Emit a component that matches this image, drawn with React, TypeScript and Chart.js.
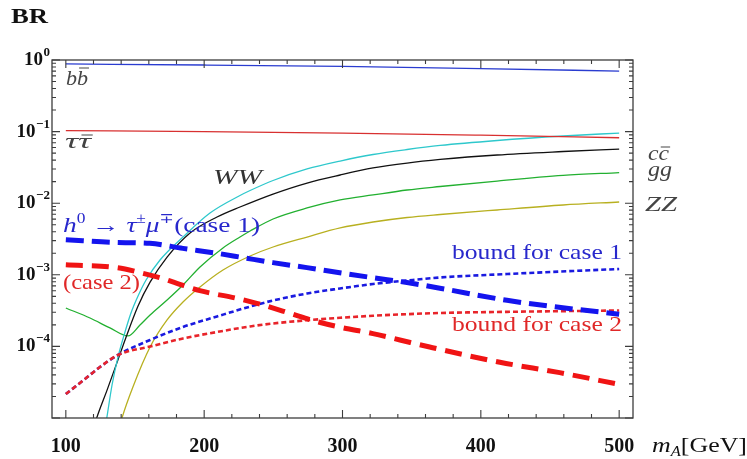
import React, { useEffect, useRef } from "react";
import { Chart, registerables } from "chart.js";

Chart.register(...registerables);

// ---------------- data ----------------
const xMin = 90;
const xMax = 510;
const yMin = 1e-5;
const yMax = 1;

const xTickMajor = [100, 200, 300, 400, 500];
const xTickLabels = ["100", "200", "300", "400", "500"];
const yDecades = [1, 0.1, 0.01, 0.001, 0.0001];
const yTickExponents = ["0", "\u22121", "\u22122", "\u22123", "\u22124"];

// b bbar
const bbX = [100, 200, 300, 400, 500];
const bbY = [0.881, 0.851, 0.813, 0.759, 0.7];

// tau tau
const tautauX = [100, 200, 300, 400, 500];
const tautauY = [0.103, 0.1, 0.0955, 0.089, 0.082];

// WW (cyan)
const wwX = [128.9, 129.6, 133.4, 137.7, 142.1, 147.1, 152.2, 158.0, 168.1, 184.7, 204.2, 225.9, 233.2, 249.8, 274.4, 298.3, 322.1, 346.7, 370.6, 411.8, 459.5, 500];
const wwY = [8.3e-6, 1.0e-5, 2.89e-5, 7.1e-5, 1.44e-4, 2.93e-4, 5.06e-4, 8.45e-4, 1.61e-3, 3.37e-3, 7.3e-3, 0.01282, 0.01503, 0.02075, 0.0301, 0.0388, 0.0479, 0.0562, 0.064, 0.0751, 0.0868, 0.0955];

// c cbar (black)
const ccX = [121.6, 122.3, 129.8, 137.7, 142.8, 152.2, 160.9, 173.2, 189.8, 209.3, 225.9, 249.8, 274.4, 298.3, 322.1, 346.7, 370.6, 411.8, 459.5, 500];
const ccY = [9e-6, 1.0e-5, 2.45e-5, 6.5e-5, 1.23e-4, 3.67e-4, 7.9e-4, 1.77e-3, 3.84e-3, 6.41e-3, 8.85e-3, 0.01343, 0.01914, 0.02477, 0.03104, 0.0364, 0.0408, 0.0471, 0.0527, 0.0571];

// gg (green)
const ggX = [100, 117.5, 131.9, 144.9, 153.6, 160.9, 173.2, 184.7, 197.0, 213.6, 225.9, 233.2, 249.8, 274.4, 298.3, 322.1, 346.7, 370.6, 411.8, 459.5, 500];
const ggY = [3.44e-4, 2.49e-4, 1.81e-4, 1.4e-4, 1.99e-4, 2.75e-4, 4.45e-4, 7.21e-4, 1.285e-3, 2.37e-3, 3.37e-3, 4.09e-3, 6.02e-3, 8.57e-3, 0.01109, 0.01303, 0.01529, 0.0171, 0.0204, 0.0244, 0.0268];

// ZZ (yellow)
const zzX = [139.5, 140.6, 148.5, 160.9, 173.2, 184.7, 197.0, 213.6, 233.2, 249.8, 274.4, 298.3, 322.1, 346.7, 370.6, 411.8, 459.5, 500];
const zzY = [8.3e-6, 1.0e-5, 2.71e-5, 9.8e-5, 2.34e-4, 4.17e-4, 6.76e-4, 1.167e-3, 1.832e-3, 2.445e-3, 3.37e-3, 4.51e-3, 5.46e-3, 6.31e-3, 6.95e-3, 8.04e-3, 9.44e-3, 0.0104];

// h0 -> tau mu (case 1), thick blue dashed
const case1X = [100, 136.9, 160.7, 184.6, 209.2, 228, 249.7, 274.3, 298, 322, 346.6, 370.4, 418.9, 455, 500];
const case1Y = [3.09e-3, 2.82e-3, 2.75e-3, 2.34e-3, 2.0e-3, 1.74e-3, 1.48e-3, 1.26e-3, 1.07e-3, 9.1e-4, 7.8e-4, 6.5e-4, 4.4e-4, 3.55e-4, 2.82e-4];

// case 2, thick red dashed
const case2X = [100, 136.9, 155.7, 168, 180.3, 196.9, 223.6, 238, 262, 278.6, 298, 322, 341.5, 363, 413.8, 457, 500];
const case2Y = [1.38e-3, 1.26e-3, 1.05e-3, 9.1e-4, 7.6e-4, 6.0e-4, 4.7e-4, 4.0e-4, 2.9e-4, 2.3e-4, 1.86e-4, 1.51e-4, 1.23e-4, 9.8e-5, 6.0e-5, 4.3e-5, 2.95e-5];

// bound for case 1, blue dotted
const bound1X = [100, 113, 124.7, 137.7, 160.9, 184.7, 209.3, 233.2, 249.8, 274.4, 298.3, 322.1, 346.7, 370.6, 419, 466.7, 500];
const bound1Y = [2.16e-5, 3.4e-5, 5.16e-5, 7.59e-5, 1.23e-4, 1.87e-4, 2.62e-4, 3.6e-4, 4.38e-4, 5.48e-4, 6.44e-4, 7.44e-4, 8.33e-4, 9.17e-4, 1.026e-3, 1.13e-3, 1.205e-3];

// bound for case 2, red dotted
const bound2X = [100, 113, 124.7, 137.7, 160.9, 184.7, 209.3, 233.2, 249.8, 274.4, 298.3, 322.1, 346.7, 370.6, 419, 500];
const bound2Y = [2.16e-5, 3.4e-5, 5.16e-5, 7.59e-5, 9.97e-5, 1.29e-4, 1.59e-4, 1.9e-4, 2.09e-4, 2.32e-4, 2.51e-4, 2.68e-4, 2.82e-4, 2.93e-4, 3.04e-4, 3.17e-4];

// ---------------- helpers ----------------
const SERIF = '"Liberation Serif", "DejaVu Serif", serif';
const pts = (xs: number[], ys: number[]) => xs.map((x, i) => ({ x, y: ys[i] }));

type Seg = { t: string; font: string; dy?: number; bar?: number };

function rich(ctx: CanvasRenderingContext2D, segs: Seg[], x: number, base: number, color: string, target?: number) {
  let total = 0;
  const widths: number[] = [];
  for (const s of segs) {
    ctx.font = s.font;
    const w = ctx.measureText(s.t).width;
    widths.push(w);
    total += w;
  }
  const sx = target ? target / total : 1;
  ctx.save();
  ctx.translate(x, base);
  ctx.scale(sx, 1);
  ctx.fillStyle = color;
  ctx.strokeStyle = color;
  ctx.textAlign = "left";
  ctx.textBaseline = "alphabetic";
  let cx = 0;
  segs.forEach((s, i) => {
    ctx.font = s.font;
    ctx.fillText(s.t, cx, s.dy || 0);
    if (s.bar !== undefined) {
      ctx.lineWidth = 1.0;
      ctx.beginPath();
      ctx.moveTo(cx + 2, s.bar);
      ctx.lineTo(cx + widths[i] + 1, s.bar);
      ctx.stroke();
    }
    cx += widths[i];
  });
  ctx.restore();
}

const it = (px: number) => `italic ${px}px ${SERIF}`;
const rm = (px: number) => `${px}px ${SERIF}`;
const bd = (px: number) => `bold ${px}px ${SERIF}`;

const decor = {
  id: "decor",
  afterDatasetsDraw(chart: any) {
    const { ctx, chartArea: a, scales } = chart;
    const xs = scales.x;
    const ys = scales.y;
    ctx.save();
    ctx.strokeStyle = "#3c3c3c";
    ctx.lineWidth = 1.3;
    ctx.strokeRect(a.left, a.top, a.right - a.left, a.bottom - a.top);
    ctx.lineWidth = 1.1;
    ctx.beginPath();
    // x ticks (bottom & top, inward)
    for (let v = 100; v <= 500; v += 20) {
      const px = xs.getPixelForValue(v);
      const len = v % 100 === 0 ? 8 : 4;
      ctx.moveTo(px, a.bottom);
      ctx.lineTo(px, a.bottom - len);
      ctx.moveTo(px, a.top);
      ctx.lineTo(px, a.top + len);
    }
    // y ticks (left & right, inward)
    for (let e = -5; e <= 0; e++) {
      for (let k = 1; k <= 9; k++) {
        const v = k * Math.pow(10, e);
        if (v > yMax * 1.0001) continue;
        const py = ys.getPixelForValue(v);
        const len = k === 1 ? 8 : 4;
        ctx.moveTo(a.left, py);
        ctx.lineTo(a.left + len, py);
        ctx.moveTo(a.right, py);
        ctx.lineTo(a.right - len, py);
      }
    }
    ctx.stroke();

    // tick labels
    ctx.fillStyle = "#111";
    ctx.textBaseline = "alphabetic";
    xTickMajor.forEach((v, i) => {
      ctx.font = bd(20);
      ctx.textAlign = "center";
      ctx.fillText(xTickLabels[i], xs.getPixelForValue(v), 452);
    });
    yDecades.forEach((v, i) => {
      const py = ys.getPixelForValue(v);
      ctx.textAlign = "left";
      ctx.font = bd(13);
      const ew = ctx.measureText(yTickExponents[i]).width;
      ctx.fillText(yTickExponents[i], 50 - ew, py - 4);
      ctx.font = bd(19);
      const w10 = ctx.measureText("10").width;
      ctx.fillText("10", 50 - ew - w10 - 0.5, py + 5);
    });
    ctx.restore();

    // axis titles
    rich(ctx, [{ t: "BR", font: bd(21) }], 11, 23, "#111", 37);
    rich(ctx, [
      { t: "m", font: it(22) },
      { t: "A", font: it(14), dy: 4 },
      { t: "[GeV]", font: rm(22) },
    ], 652, 452, "#111", 95);

    // curve labels
    const grey = "#444";
    rich(ctx, [{ t: "b", font: it(21) }, { t: "b", font: it(21), bar: -17 }], 66, 85, grey, 22);
    rich(ctx, [{ t: "\u03c4", font: it(21) }, { t: "\u03c4", font: it(21), bar: -13 }], 65, 148, grey, 26);
    rich(ctx, [{ t: "WW", font: it(21) }], 213, 184, "#333", 49);
    rich(ctx, [{ t: "c", font: it(21) }, { t: "c", font: it(21), bar: -13 }], 648, 160, grey, 21);
    rich(ctx, [{ t: "gg", font: it(21) }], 648, 176, grey, 24);
    rich(ctx, [{ t: "ZZ", font: it(21) }], 645, 211, grey, 32);

    const blue = "#2828cc";
    const red = "#e02828";
    rich(ctx, [
      { t: "h", font: it(22) },
      { t: "0", font: rm(14), dy: -9 },
      { t: " \u2192 ", font: rm(22) },
      { t: "\u03c4", font: it(22) },
      { t: "\u00b1", font: rm(14), dy: -9 },
      { t: "\u03bc", font: it(22) },
      { t: "\u2213", font: rm(14), dy: -9 },
      { t: "(case 1)", font: rm(22) },
    ], 63, 232, blue, 197);
    rich(ctx, [{ t: "(case 2)", font: rm(22) }], 63, 289, red, 77);
    rich(ctx, [{ t: "bound for case 1", font: rm(22) }], 452, 259, blue, 170);
    rich(ctx, [{ t: "bound for case 2", font: rm(22) }], 452, 331, red, 170);
  },
};

function ds(label: string, xs: number[], ys: number[], color: string, width: number, dash: number[] = []) {
  return {
    label,
    data: pts(xs, ys),
    borderColor: color,
    borderWidth: width,
    borderDash: dash,
    pointRadius: 0,
    fill: false,
    cubicInterpolationMode: "monotone" as const,
  };
}

export default function App() {
  const ref = useRef<HTMLCanvasElement>(null);
  useEffect(() => {
    const canvas = ref.current!;
    const chart = new Chart(canvas, {
      type: "line",
      data: {
        datasets: [
          ds("case 1", case1X, case1Y, "#1414ee", 5, [18, 8]),
          ds("case 2", case2X, case2Y, "#f01414", 5, [17, 9]),
          ds("bound for case 2", bound2X, bound2Y, "#e8242a", 2.6, [5, 3]),
          ds("bound for case 1", bound1X, bound1Y, "#1a1ae0", 2.6, [5, 3]),
          ds("bb", bbX, bbY, "#2a3cd0", 1.3),
          ds("tautau", tautauX, tautauY, "#d83030", 1.3),
          ds("WW", wwX, wwY, "#2ec8cc", 1.3),
          ds("cc", ccX, ccY, "#111111", 1.3),
          ds("gg", ggX, ggY, "#22b030", 1.3),
          ds("ZZ", zzX, zzY, "#b8b020", 1.3),
        ] as any,
      },
      options: {
        animation: false,
        responsive: false,
        layout: { padding: { left: 52, right: 114, top: 60, bottom: 41 } },
        scales: {
          x: { type: "linear", min: xMin, max: xMax, display: false },
          y: { type: "logarithmic", min: yMin, max: yMax, display: false },
        },
        plugins: { legend: { display: false }, tooltip: { enabled: false }, title: { display: false } },
        elements: { point: { radius: 0 } },
      },
      plugins: [decor as any],
    });
    return () => chart.destroy();
  }, []);
  return (
    <div style={{ position: "fixed", left: 0, top: 0, width: 747, height: 459, background: "#fff" }}>
      <canvas ref={ref} width={747} height={459} style={{ display: "block", width: 747, height: 459 }} />
    </div>
  );
}
